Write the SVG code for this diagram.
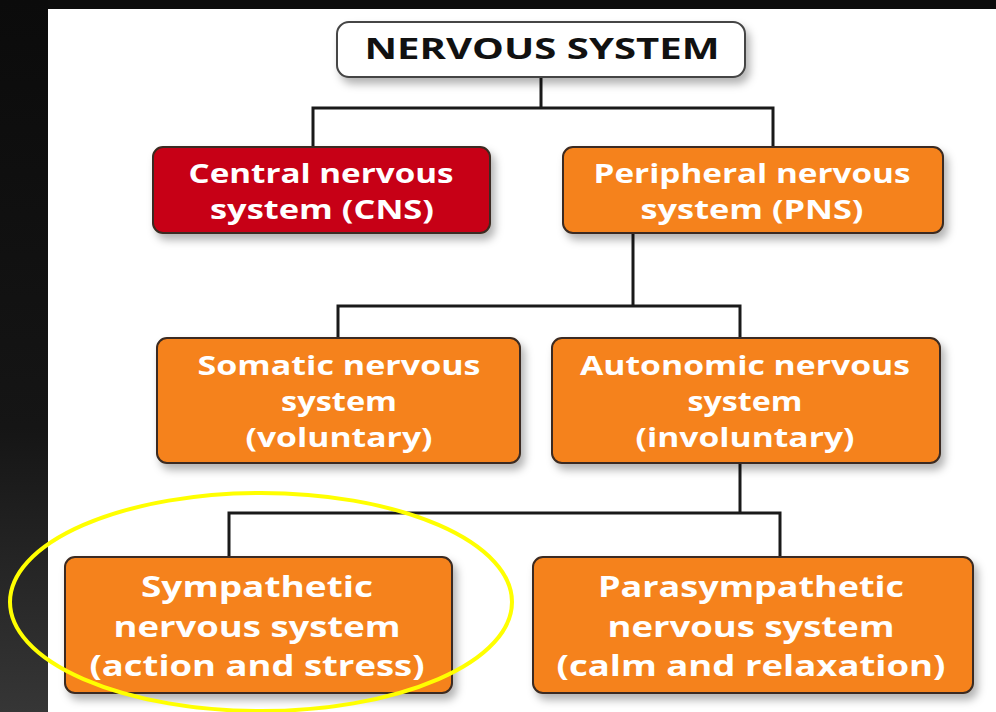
<svg xmlns="http://www.w3.org/2000/svg" width="996" height="712" viewBox="0 0 996 712">
<defs>
<linearGradient id="side" x1="0" y1="0" x2="0" y2="1">
<stop offset="0" stop-color="#0b0b0b"/>
<stop offset="0.6" stop-color="#151515"/>
<stop offset="1" stop-color="#363636"/>
</linearGradient>
<filter id="sh" x="-10%" y="-10%" width="130%" height="140%">
<feDropShadow dx="4" dy="6" stdDeviation="4" flood-color="#000" flood-opacity="0.3"/>
</filter>
</defs>
<style>
.box{stroke:#3a2a20;stroke-width:2;filter:url(#sh)}
.or{fill:#f5821f}
.rd{fill:#c70012}
.wt{fill:#ffffff;stroke:#444}
.t{font-family:"Open Sans","Lato",sans-serif;font-weight:bold;fill:#fff;text-anchor:middle}
.m{font-size:27px}
.b{font-size:28px}
.k{fill:#111;font-size:28px}
.c{fill:none;stroke:#1a1a1a;stroke-width:3}
</style>
<rect x="0" y="0" width="996" height="712" fill="#0c0c0c"/>
<rect x="0" y="0" width="48" height="712" fill="url(#side)"/>
<rect x="48" y="9" width="948" height="703" fill="#ffffff"/>
<g id="connectors">
<path class="c" d="M541 77V108M313 147V108H773V147"/>
<path class="c" d="M633 233V306M338 338V306H740V338"/>
<path class="c" d="M740 463V513M229 557V513H780V557"/>
</g>
<g id="nervous-system">
<rect class="box wt" x="337" y="22" width="408" height="55" rx="12"/>
<text class="t k" x="542" y="59" textLength="355" lengthAdjust="spacingAndGlyphs">NERVOUS SYSTEM</text>
</g>
<g id="cns">
<rect class="box rd" x="153" y="147" width="337" height="86" rx="10"/>
<text class="t m" x="321" y="183" textLength="265" lengthAdjust="spacingAndGlyphs">Central nervous</text>
<text class="t m" x="322" y="219" textLength="224" lengthAdjust="spacingAndGlyphs">system (CNS)</text>
</g>
<g id="pns">
<rect class="box or" x="563" y="147" width="380" height="86" rx="10"/>
<text class="t m" x="752" y="183" textLength="317" lengthAdjust="spacingAndGlyphs">Peripheral nervous</text>
<text class="t m" x="752" y="219" textLength="223" lengthAdjust="spacingAndGlyphs">system (PNS)</text>
</g>
<g id="somatic">
<rect class="box or" x="157" y="338" width="363" height="125" rx="10"/>
<text class="t m" x="339" y="375" textLength="283" lengthAdjust="spacingAndGlyphs">Somatic nervous</text>
<text class="t m" x="339" y="411" textLength="116" lengthAdjust="spacingAndGlyphs">system</text>
<text class="t m" x="339" y="447" textLength="187" lengthAdjust="spacingAndGlyphs">(voluntary)</text>
</g>
<g id="autonomic">
<rect class="box or" x="552" y="338" width="388" height="125" rx="10"/>
<text class="t m" x="745" y="375" textLength="330" lengthAdjust="spacingAndGlyphs">Autonomic nervous</text>
<text class="t m" x="745" y="411" textLength="115" lengthAdjust="spacingAndGlyphs">system</text>
<text class="t m" x="745" y="447" textLength="219" lengthAdjust="spacingAndGlyphs">(involuntary)</text>
</g>
<g id="sympathetic">
<rect class="box or" x="65" y="557" width="387" height="136" rx="10"/>
<text class="t b" x="257" y="597" textLength="232" lengthAdjust="spacingAndGlyphs">Sympathetic</text>
<text class="t b" x="257" y="637" textLength="287" lengthAdjust="spacingAndGlyphs">nervous system</text>
<text class="t b" x="257" y="676" textLength="335" lengthAdjust="spacingAndGlyphs">(action and stress)</text>
</g>
<g id="parasympathetic">
<rect class="box or" x="533" y="557" width="440" height="136" rx="10"/>
<text class="t b" x="751" y="597" textLength="306" lengthAdjust="spacingAndGlyphs">Parasympathetic</text>
<text class="t b" x="751" y="637" textLength="287" lengthAdjust="spacingAndGlyphs">nervous system</text>
<text class="t b" x="751" y="676" textLength="389" lengthAdjust="spacingAndGlyphs">(calm and relaxation)</text>
</g>
<ellipse id="highlight" cx="261" cy="602" rx="251" ry="109" fill="none" stroke="#ffff00" stroke-width="4"/>
</svg>
